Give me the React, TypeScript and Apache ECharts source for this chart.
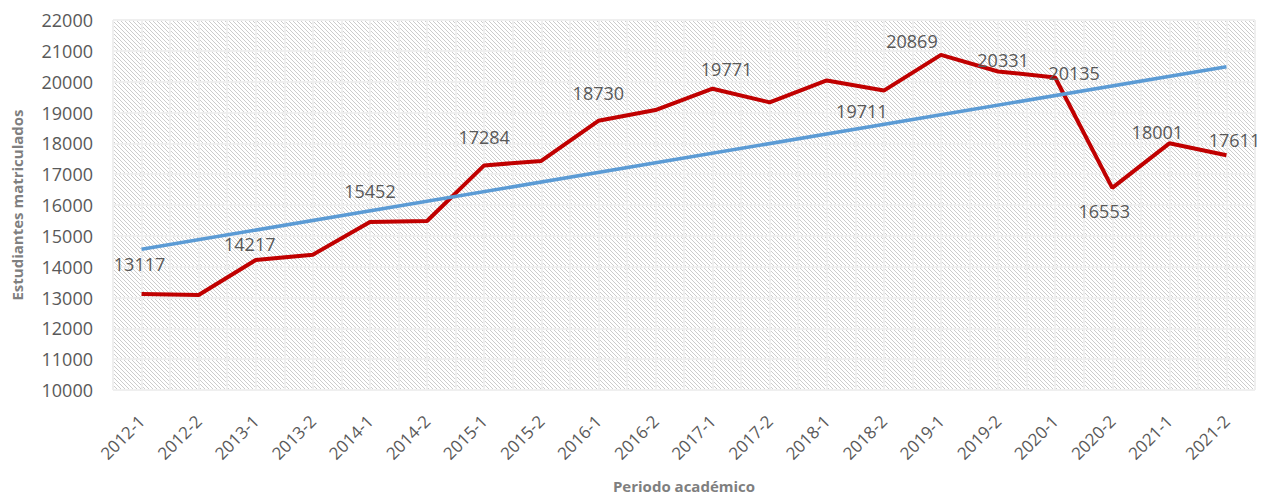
import React, { useEffect, useRef } from "react";
import * as echarts from "echarts";

const periods = ["2012-1","2012-2","2013-1","2013-2","2014-1","2014-2","2015-1","2015-2","2016-1","2016-2","2017-1","2017-2","2018-1","2018-2","2019-1","2019-2","2020-1","2020-2","2021-1","2021-2"];
const students = [13117,13080,14217,14390,15452,15480,17284,17430,18730,19080,19771,19330,20040,19711,20869,20331,20135,16553,18001,17611];
const trendStart = 14563;
const trendEnd = 20486;
const yTicks = { min: 10000, max: 22000, interval: 1000 };

// label offsets (dx, dy) for labelled points, relative to the "top" position
const labelOffsets: Record<number, [number, number]> = {
  0: [-2, -16], 2: [-6, -2], 4: [0, -17], 6: [0, -14], 8: [0, -14], 10: [14, -6],
  13: [-22, 34], 14: [-29, 0], 15: [5, 3], 16: [19, 9], 17: [-8, 37], 18: [-12, 3], 19: [8, -1],
};

function makePattern() {
  const c = document.createElement("canvas");
  c.width = 4; c.height = 4;
  const ctx = c.getContext("2d")!;
  ctx.fillStyle = "#ffffff";
  ctx.fillRect(0, 0, 4, 4);
  ctx.fillStyle = "#cccccc";
  for (let y = 0; y < 4; y++) for (let x = 0; x < 4; x++) {
    const d = ((x - y) % 4 + 4) % 4;
    if (d === 0) ctx.fillRect(x, y, 1, 1);
  }
  return c;
}

export default function App() {
  const ref = useRef<HTMLDivElement>(null);
  useEffect(() => {
    if (!ref.current) return;
    document.body.style.margin = "0";
    const chart = echarts.init(ref.current, null, { renderer: "svg" });
    const font = "'Open Sans', sans-serif";
    const pattern = makePattern();
    chart.setOption({
      animation: false,
      textStyle: { fontFamily: font },
      grid: {
        left: 113, right: 8, top: 20, bottom: 106, show: true,
        outerBoundsMode: "none", containLabel: false,
        backgroundColor: { image: pattern, repeat: "repeat" } as any,
        borderColor: "#dedede", borderWidth: 1,
      } as any,
      xAxis: [
        {
          type: "category", data: periods, boundaryGap: true,
          axisLine: { show: false }, axisTick: { show: false },
          axisLabel: { rotate: 45, color: "#595959", fontSize: 17, fontFamily: font, margin: 28, interval: 0 },
          splitLine: { show: false },
          name: "Periodo académico", nameLocation: "middle", nameGap: 88,
          nameTextStyle: { color: "#7f7f7f", fontSize: 15, fontWeight: "bold", fontFamily: font },
        },
        {
          type: "value", min: 0, max: 40, interval: 1, position: "bottom",
          axisLine: { show: false }, axisTick: { show: false }, axisLabel: { show: false },
          splitLine: { show: true, lineStyle: { color: "#efefef", width: 2 } },
        },
      ],
      yAxis: {
        type: "value", min: yTicks.min, max: yTicks.max, interval: yTicks.interval,
        axisLine: { show: false }, axisTick: { show: false },
        axisLabel: { color: "#595959", fontSize: 18, fontFamily: font, margin: 20, formatter: (v: number) => String(v) },
        splitLine: { show: true, lineStyle: { color: "#efefef", width: 2 } },
        name: "Estudiantes matriculados", nameLocation: "middle", nameGap: 89,
        nameTextStyle: { color: "#7f7f7f", fontSize: 15, fontWeight: "bold", fontFamily: font },
      },
      series: [
        {
          type: "line", xAxisIndex: 0, data: students.map((v, i) => {
            const off = labelOffsets[i];
            return off
              ? { value: v, label: { show: true, position: "top", offset: off, color: "#595959", fontSize: 18, fontFamily: font } }
              : { value: v };
          }),
          symbol: "circle", symbolSize: 0, showSymbol: true, showAllSymbol: true,
          itemStyle: { color: "rgba(0,0,0,0)" },
          lineStyle: { color: "#c00000", width: 4 }, z: 3,
          label: { show: false },
        },
        {
          type: "line", xAxisIndex: 0,
          data: [[periods[0], trendStart], [periods[periods.length - 1], trendEnd]],
          symbol: "none", lineStyle: { color: "#5b9bd5", width: 3.5 }, z: 4,
        },
      ],
    });
    return () => chart.dispose();
  }, []);
  return <div ref={ref} style={{ width: 1263, height: 496 }} />;
}
